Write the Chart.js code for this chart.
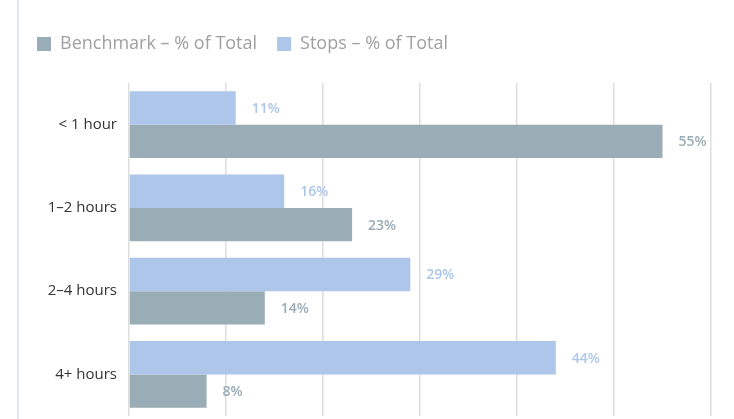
<!DOCTYPE html>
<html>
<head>
<meta charset="utf-8">
<style>
  html, body { margin: 0; padding: 0; background: #fff; }
  #wrap { position: relative; width: 734px; height: 419px; }
</style>
<script src="https://cdn.jsdelivr.net/npm/chart.js@4.4.1/dist/chart.umd.min.js"></script>
</head>
<body>
<div id="wrap"><canvas id="chart" width="734" height="419"></canvas></div>
<script>
const categories = ['< 1 hour', '1–2 hours', '2–4 hours', '4+ hours'];
const stopsPct = [11, 16, 29, 44];
const benchmarkPct = [55, 23, 14, 8];
const xTicks = [0, 10, 20, 30, 40, 50, 60];

const FONT = '"Open Sans", Lato, sans-serif';
const STOPS_COLOR = '#adc6ea';
const BENCH_COLOR = '#9aacb5';

// thin rule down the left side of the card
const leftRule = {
  id: 'leftRule',
  beforeDraw(chart) {
    const { ctx } = chart;
    ctx.save();
    ctx.fillStyle = '#e3e8ee';
    ctx.fillRect(17, 0, 2, chart.height);
    ctx.restore();
  }
};

// extra room between the legend and the bars
const legendGap = {
  id: 'legendGap',
  beforeInit(chart) {
    const fit = chart.legend.fit;
    chart.legend.fit = function () {
      fit.call(this);
      this.height += 20;
    };
  }
};

// percentage text to the right of each bar
const valueLabels = {
  id: 'valueLabels',
  afterDatasetsDraw(chart) {
    const { ctx } = chart;
    ctx.save();
    ctx.font = '600 14px ' + FONT;
    ctx.textBaseline = 'middle';
    ctx.textAlign = 'left';
    chart.data.datasets.forEach((ds, i) => {
      const meta = chart.getDatasetMeta(i);
      ctx.fillStyle = ds.labelColor;
      meta.data.forEach((bar, j) => {
        ctx.fillText(ds.data[j] + '%', bar.x + 16, bar.y + 1);
      });
    });
    ctx.restore();
  }
};

new Chart(document.getElementById('chart'), {
  type: 'bar',
  data: {
    labels: categories,
    datasets: [{
      label: 'Stops – % of Total',
      data: stopsPct,
      backgroundColor: STOPS_COLOR,
      labelColor: STOPS_COLOR,
      barPercentage: 1.0,
      categoryPercentage: 0.8
    }, {
      label: 'Benchmark – % of Total',
      data: benchmarkPct,
      backgroundColor: BENCH_COLOR,
      labelColor: BENCH_COLOR,
      barPercentage: 1.0,
      categoryPercentage: 0.8
    }]
  },
  options: {
    indexAxis: 'y',
    responsive: false,
    animation: false,
    layout: {
      padding: { left: 17, right: 23, top: 15, bottom: 3 }
    },
    scales: {
      x: {
        min: 0,
        max: 60,
        afterBuildTicks: (scale) => { scale.ticks = xTicks.map(v => ({ value: v })); },
        afterFit: (scale) => { scale.height = 0; },
        ticks: { display: false },
        grid: { color: '#dedede', lineWidth: 1.5, drawTicks: false },
        border: { display: false }
      },
      y: {
        grid: { display: false, drawTicks: false },
        border: { display: false },
        afterFit: (scale) => {
          scale.width = 112;
          // labels sit mid-category, so no overhang above or below
          scale.paddingTop = 0;
          scale.paddingBottom = 0;
        },
        ticks: {
          color: '#333',
          padding: 12,
          font: { family: FONT, size: 15 }
        }
      }
    },
    plugins: {
      legend: {
        align: 'start',
        reverse: true,
        labels: {
          boxWidth: 14,
          boxHeight: 14,
          padding: 20,
          color: '#a0a0a0',
          font: { family: FONT, size: 18 }
        }
      },
      tooltip: { enabled: false }
    }
  },
  plugins: [leftRule, legendGap, valueLabels]
});
</script>
</body>
</html>
